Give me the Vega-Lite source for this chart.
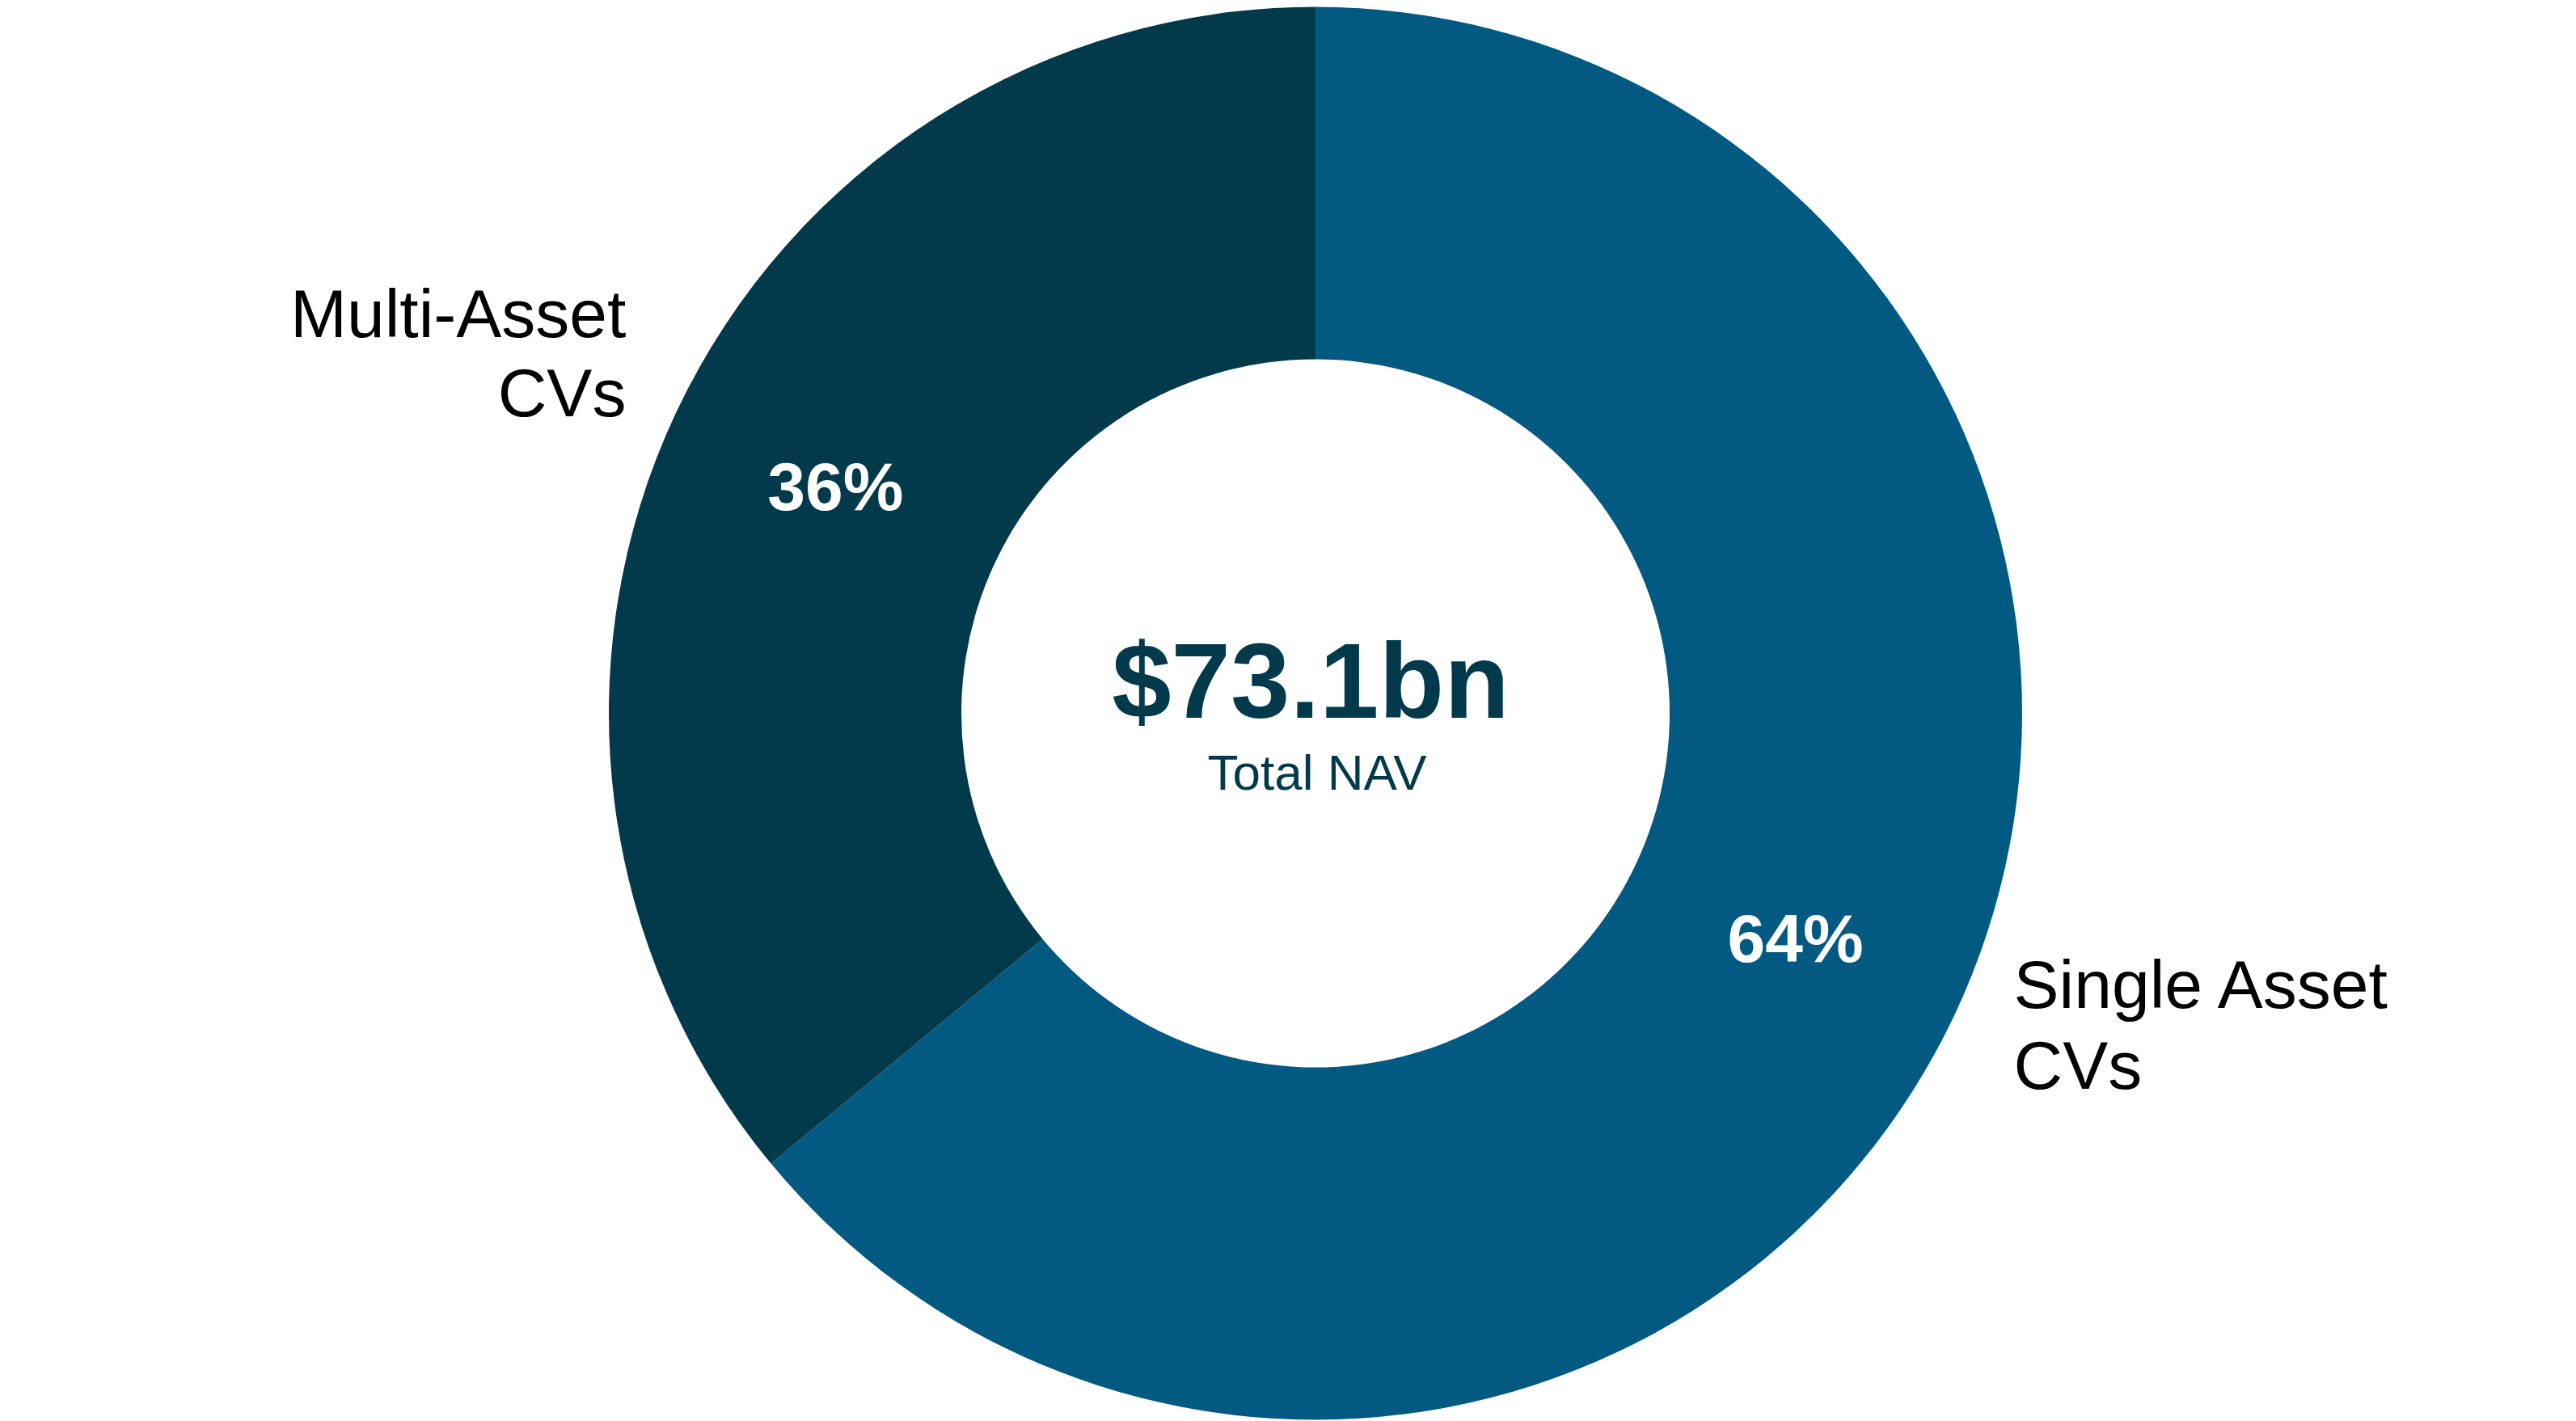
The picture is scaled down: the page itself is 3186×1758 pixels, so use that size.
{
  "$schema": "https://vega.github.io/schema/vega-lite/v6.json",
  "width": 3186,
  "height": 1758,
  "autosize": {"type": "fit", "contains": "padding"},
  "padding": {"left": 68, "top": 7, "right": 0, "bottom": 0},
  "background": "white",
  "config": {"view": {"stroke": null}, "font": "Arial"},
  "data": {"values": [
    {"segment": "Single Asset\nCVs", "share": 0.64},
    {"segment": "Multi-Asset\nCVs", "share": 0.36}
  ]},
  "layer": [
    {
      "mark": {"type": "arc", "outerRadius": 874, "innerRadius": 438},
      "encoding": {
        "theta": {"field": "share", "type": "quantitative", "stack": true},
        "order": {"field": "share", "sort": "descending"},
        "color": {"field": "segment", "type": "nominal", "scale": {"domain": ["Single Asset\nCVs", "Multi-Asset\nCVs"], "range": ["#025A82", "#023A4B"]}, "legend": null}
      }
    },
    {
      "mark": {"type": "text", "font": "Arial", "radius": 656, "fontSize": 84, "fontWeight": "bold", "color": "white", "baseline": "middle", "dy": 3},
      "encoding": {
        "theta": {"field": "share", "type": "quantitative", "stack": true},
        "order": {"field": "share", "sort": "descending"},
        "detail": {"field": "segment", "type": "nominal"},
        "text": {"field": "share", "type": "quantitative", "format": ".0%"}
      }
    },
    {
      "mark": {"type": "text", "font": "Arial", "radius": 950, "fontSize": 84, "color": "black", "align": "right", "baseline": "alphabetic", "lineBreak": "\n", "lineHeight": 98, "dx": 7, "dy": -61},
      "encoding": {
        "theta": {"field": "share", "type": "quantitative", "stack": true},
        "order": {"field": "share", "sort": "descending"},
        "detail": {"field": "segment", "type": "nominal"},
        "text": {"condition": {"test": "datum.share < 0.5", "field": "segment"}, "value": ""}
      }
    },
    {
      "mark": {"type": "text", "font": "Arial", "radius": 950, "fontSize": 84, "color": "black", "align": "left", "baseline": "alphabetic", "lineBreak": "\n", "lineHeight": 100, "dx": 4, "dy": -40},
      "encoding": {
        "theta": {"field": "share", "type": "quantitative", "stack": true},
        "order": {"field": "share", "sort": "descending"},
        "detail": {"field": "segment", "type": "nominal"},
        "text": {"condition": {"test": "datum.share >= 0.5", "field": "segment"}, "value": ""}
      }
    },
    {
      "data": {"values": [{"t": "$73.1bn"}]},
      "mark": {"type": "text", "font": "Arial", "fontSize": 132, "fontWeight": "bold", "color": "#023A4B", "baseline": "alphabetic", "align": "center", "dx": -6, "dy": 5},
      "encoding": {"text": {"field": "t", "type": "nominal"}}
    },
    {
      "data": {"values": [{"t": "Total NAV"}]},
      "mark": {"type": "text", "font": "Arial", "fontSize": 62, "color": "#023A4B", "baseline": "alphabetic", "align": "center", "dx": 2, "dy": 94},
      "encoding": {"text": {"field": "t", "type": "nominal"}}
    }
  ]
}
